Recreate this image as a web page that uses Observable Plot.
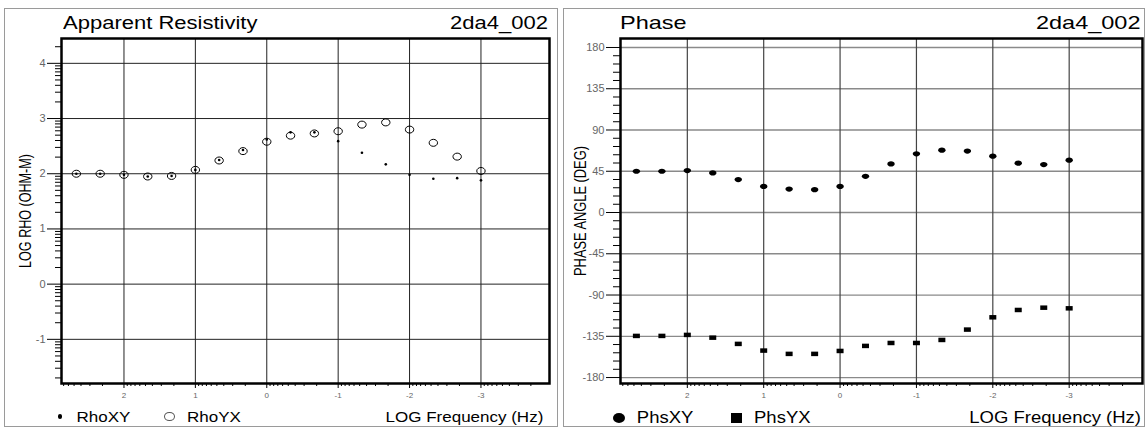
<!DOCTYPE html>
<html><head><meta charset="utf-8">
<script src="https://cdn.jsdelivr.net/npm/d3@7"></script>
<script src="https://cdn.jsdelivr.net/npm/@observablehq/plot@0.6"></script>
<style>
body{margin:0;background:#fff;font-family:"Liberation Sans",Arial,sans-serif;}
#wrap{position:relative;width:1146px;height:428px;overflow:hidden;background:#fff}
.panel{position:absolute;border:1.5px solid #9a9a9a;box-sizing:border-box}
.t{position:absolute;white-space:nowrap;color:#000;line-height:1}
.chart{position:absolute}
.mk{position:absolute;box-sizing:border-box}
</style></head>
<body><div id="wrap"></div>
<script>
// ---- data ----
const logFreq = [2.667, 2.333, 2, 1.667, 1.333, 1, 0.667, 0.333, 0, -0.333, -0.667, -1, -1.333, -1.667, -2, -2.333, -2.667, -3];
const rhoXY = [2.00, 2.00, 1.98, 1.95, 1.96, 2.07, 2.25, 2.43, 2.62, 2.75, 2.75, 2.59, 2.38, 2.17, 1.98, 1.91, 1.92, 1.88];
const rhoYX = [2.00, 2.00, 1.98, 1.95, 1.96, 2.07, 2.24, 2.41, 2.58, 2.69, 2.73, 2.77, 2.89, 2.93, 2.80, 2.56, 2.31, 2.05];
const phsXY = [45.0, 45.0, 45.7, 43.2, 35.9, 28.5, 25.6, 24.9, 28.5, 39.5, 53.0, 64.0, 68.0, 67.0, 61.5, 53.8, 52.3, 57.1];
const phsYX = [-134.6, -134.6, -133.5, -136.5, -143.3, -150.6, -154.2, -154.2, -151.0, -145.5, -142.3, -142.3, -139.0, -127.7, -114.3, -106.3, -103.8, -104.5];
const xTicks = [2, 1, 0, -1, -2, -3];
const rhoTicks = [4, 3, 2, 1, 0, -1];
const phaseTicks = [180, 135, 90, 45, 0, -45, -90, -135, -180];
const titles = ["Apparent Resistivity", "Phase"];
const siteName = "2da4_002";
const rhoLabel = "LOG RHO (OHM-M)";
const phaseLabel = "PHASE ANGLE (DEG)";
const xLabel = "LOG Frequency (Hz)";
const rhoSeries = ["RhoXY", "RhoYX"];
const phsSeries = ["PhsXY", "PhsYX"];

// ---- helpers ----
const FONT = '"Liberation Sans", Arial, sans-serif';
const wrap = document.getElementById("wrap");
function panel(l, t, w, h) {
  const d = document.createElement("div"); d.className = "panel";
  Object.assign(d.style, {left: l + "px", top: t + "px", width: w + "px", height: h + "px"});
  wrap.appendChild(d);
}
function txt(s, o) {
  const d = document.createElement("div"); d.className = "t"; d.textContent = s;
  const b = 0.8465 * o.size;
  d.style.fontSize = o.size + "px";
  d.style.top = (o.baseline - b) + "px";
  if (o.left != null) d.style.left = o.left + "px";
  if (o.right != null) { d.style.right = (1146 - o.right) + "px"; d.style.textAlign = "right"; }
  d.style.transformOrigin = "0 " + b + "px";
  d.style.transform = "scaleY(" + (o.sy || 1) + ")";
  wrap.appendChild(d);
}
function marker(cx, cy, w, h, o) {
  const d = document.createElement("div"); d.className = "mk";
  Object.assign(d.style, {left: (cx - w / 2) + "px", top: (cy - h / 2) + "px", width: w + "px", height: h + "px",
    borderRadius: o.round ? "50%" : "0", background: o.fill || "none", border: o.stroke ? ("1px solid " + o.stroke) : "none"});
  wrap.appendChild(d);
}
const ellipseSym = (rx, ry) => ({draw(ctx) {
  const k = 0.5523;
  ctx.moveTo(rx, 0);
  ctx.bezierCurveTo(rx, k * ry, k * rx, ry, 0, ry);
  ctx.bezierCurveTo(-k * rx, ry, -rx, k * ry, -rx, 0);
  ctx.bezierCurveTo(-rx, -k * ry, -k * rx, -ry, 0, -ry);
  ctx.bezierCurveTo(k * rx, -ry, rx, -k * ry, rx, 0);
  ctx.closePath();
}});
const rectSym = (w, h) => ({draw(ctx) { ctx.rect(-w / 2, -h / 2, w, h); }});

const xDomain = [2.875, -3.96];
const logMinor = (lo, hi) => {
  const out = [];
  for (let n = -6; n <= 6; n++) for (let k = 2; k <= 9; k++) {
    const v = n + Math.log10(k);
    if (v > Math.min(lo, hi) && v < Math.max(lo, hi)) out.push(v);
  }
  return out;
};
const xMinor = logMinor(xDomain[0], xDomain[1]);
const rhoDomain = [-1.80, 4.45];
const rhoMinor = logMinor(rhoDomain[0], rhoDomain[1]);
const phaseDomain = [-186.5, 189.8];
const phaseMinor = d3.range(-180, 181, 9).filter(v => v % 45 !== 0);
const fmt = d => String(d);

// ---- panels ----
panel(4, 8, 554, 419);
panel(563, 8, 582, 419);

// ---- left chart ----
const rho = Plot.plot({
  width: 552, height: 370, marginLeft: 61, marginRight: 3, marginTop: 8, marginBottom: 17,
  style: {fontFamily: FONT, background: "transparent", overflow: "visible", color: "#000"},
  x: {domain: xDomain},
  y: {domain: rhoDomain},
  marks: [
    Plot.ruleX(xTicks, {stroke: "#222", strokeWidth: 1}),
    Plot.ruleY(rhoTicks, {stroke: "#222", strokeWidth: 1}),
    Plot.axisX(xMinor, {tickSize: 3, text: null, label: null}),
    Plot.axisX(xTicks, {tickSize: 5, tickPadding: 4, fontSize: 8, fill: "#666", label: null, tickFormat: fmt}),
    Plot.axisY(rhoMinor, {tickSize: 6, text: null, label: null}),
    Plot.axisY(rhoTicks, {tickSize: 14, tickPadding: 2, fontSize: 11, fill: "#666", label: null, tickFormat: fmt}),
    Plot.text([rhoLabel], {frameAnchor: "left", textAnchor: "middle", lineAnchor: "middle", rotate: -90, dx: -36, fontSize: 17, fill: "#000"}),
    Plot.dot(logFreq, {x: logFreq, y: rhoYX, r: 4, symbol: ellipseSym(4.2, 3.5), fill: "none", stroke: "#000", strokeWidth: 1}),
    Plot.dot(logFreq, {x: logFreq, y: rhoXY, r: 1.3, fill: "#000", stroke: "none"}),
    Plot.frame({stroke: "#000", strokeWidth: 2.5})
  ]
});
const c1 = document.createElement("div"); c1.className = "chart"; c1.style.left = "0px"; c1.style.top = "30px";
c1.appendChild(rho); wrap.appendChild(c1);

// ---- right chart ----
const phs = Plot.plot({
  width: 582, height: 370, marginLeft: 57, marginRight: 3, marginTop: 8, marginBottom: 17,
  style: {fontFamily: FONT, background: "transparent", overflow: "visible", color: "#000"},
  x: {domain: xDomain},
  y: {domain: phaseDomain},
  marks: [
    Plot.ruleY(phaseTicks, {stroke: "#8a8a8a", strokeWidth: 1.3}),
    Plot.ruleX(xTicks, {stroke: "#444", strokeWidth: 1.2}),
    Plot.axisX(xMinor, {tickSize: 3, text: null, label: null}),
    Plot.axisX(xTicks, {tickSize: 5, tickPadding: 4, fontSize: 8, fill: "#666", label: null, tickFormat: fmt}),
    Plot.axisY(phaseMinor, {tickSize: 7, text: null, label: null}),
    Plot.axisY(phaseTicks, {tickSize: 14, tickPadding: 2, fontSize: 11, fill: "#666", label: null, tickFormat: fmt}),
    Plot.text([phaseLabel], {frameAnchor: "left", textAnchor: "middle", lineAnchor: "middle", rotate: -90, dx: -40, fontSize: 17, fill: "#000"}),
    Plot.dot(logFreq, {x: logFreq, y: phsXY, r: 3, symbol: ellipseSym(3.7, 2.6), fill: "#000", stroke: "none"}),
    Plot.dot(logFreq, {x: logFreq, y: phsYX, r: 3, symbol: rectSym(7, 4.5), fill: "#000", stroke: "none"}),
    Plot.frame({stroke: "#000", strokeWidth: 2.5})
  ]
});
const c2 = document.createElement("div"); c2.className = "chart"; c2.style.left = "563px"; c2.style.top = "30px";
c2.appendChild(phs); wrap.appendChild(c2);

// condense rotated axis labels along their length (like the reference's narrow font)
function condense(svg, label, target) {
  d3.select(svg).selectAll("text").filter(function () { return this.textContent === label; })
    .each(function () {
      const len = this.getComputedTextLength();
      const k = len > 0 ? target / len : 1;
      const tr = this.getAttribute("transform") || "";
      this.setAttribute("transform", (tr + " scale(" + k.toFixed(4) + ",1)").trim());
    });
}
condense(rho, rhoLabel, 114);
condense(phs, phaseLabel, 130);

// ---- titles ----
txt(titles[0], {left: 63, baseline: 30, size: 22, sy: 0.86});
txt(siteName, {right: 548, baseline: 30, size: 22, sy: 0.86});
txt(titles[1], {left: 620, baseline: 30, size: 23.5, sy: 0.78});
txt(siteName, {right: 1140.5, baseline: 30, size: 23.5, sy: 0.78});

// ---- legends ----
marker(60, 416.5, 4.8, 4.8, {round: true, fill: "#000"});
txt(rhoSeries[0], {left: 76.6, baseline: 422, size: 17, sy: 0.87});
marker(169.7, 416.5, 11.2, 9.5, {round: true, stroke: "#555"});
txt(rhoSeries[1], {left: 187, baseline: 422, size: 17, sy: 0.87});
txt(xLabel, {right: 543.3, baseline: 422, size: 17, sy: 0.87});

marker(618.5, 418, 12, 10, {round: true, fill: "#000"});
txt(phsSeries[0], {left: 636.8, baseline: 424, size: 18.5, sy: 0.85});
marker(736.5, 418, 11.5, 9.5, {fill: "#000"});
txt(phsSeries[1], {left: 754, baseline: 424, size: 18.5, sy: 0.85});
txt(xLabel, {right: 1141, baseline: 424, size: 18.5, sy: 0.85});
</script>
</body></html>
